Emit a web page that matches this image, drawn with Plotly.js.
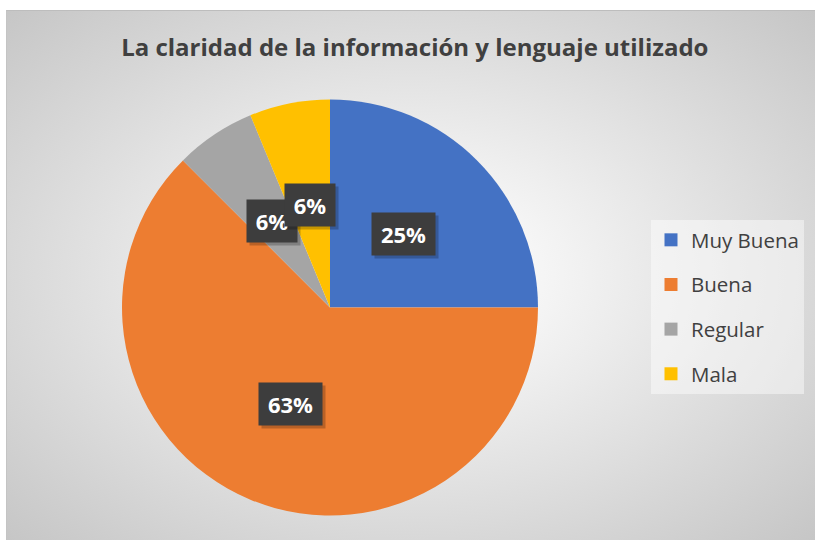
<!DOCTYPE html>
<html><head><meta charset="utf-8">
<script src="https://cdn.plot.ly/plotly-3.0.1.min.js"></script>
<style>
html,body{margin:0;padding:0;background:#fff;width:815px;height:540px;overflow:hidden}
#bg{position:absolute;left:6px;top:10px;width:809px;height:530px;border-top:1px solid #bdbdbd;border-left:1px solid #c4c4c4;box-sizing:border-box;
background:radial-gradient(ellipse farthest-corner at 50% 50%, #ffffff 0%, #fafafa 15%, #c6c6c6 100%);}
#chart{position:absolute;left:0;top:0;width:815px;height:540px}
</style></head><body>
<div id="bg"></div><div id="chart"></div>
<script>
const categories = ['Muy Buena', 'Buena', 'Regular', 'Mala'];
const counts = [4, 10, 1, 1];
const colors = ['#4472C4', '#ED7D31', '#A5A5A5', '#FFC000'];
const titleText = 'La claridad de la información y lenguaje utilizado';

const W = 815, H = 540, CX = 330, CY = 307.5, R = 208;
const domain = {x: [(CX - R) / W, (CX + R) / W], y: [(H - CY - R) / H, (H - CY + R) / H]};
const total = counts.reduce((a, b) => a + b, 0);

const annotations = [];
let cum = 0;
counts.forEach((v, i) => {
  const frac = v / total;
  const mid = (cum + frac / 2) * 2 * Math.PI;
  cum += frac;
  const px = CX + 0.5 * R * Math.sin(mid);
  const py = CY - 0.5 * R * Math.cos(mid);
  const txt = Math.round(frac * 100) + '%';
  const boxW = 13 * txt.length + 6;
  const font = {family: 'Open Sans', size: 22, color: '#ffffff', weight: 'bold'};
  const base = {xref: 'paper', yref: 'paper', x: px / W, y: 1 - py / H, showarrow: false,
    xanchor: 'center', yanchor: 'middle', borderpad: 9, width: boxW, height: 24, font: font};
  annotations.push(Object.assign({}, base, {text: '\u00a0', xshift: 3, yshift: -3, bgcolor: 'rgba(0,0,0,0.22)'}));
  annotations.push(Object.assign({}, base, {text: txt, bgcolor: '#3d3d3d'}));
});

const pie = {
  type: 'pie', labels: categories, values: counts, sort: false, direction: 'clockwise', rotation: 0,
  marker: {colors: colors, line: {width: 0}}, textinfo: 'none', hoverinfo: 'label+percent',
  domain: domain, showlegend: false
};
const legendTraces = categories.map((c, i) => ({
  type: 'scatter', mode: 'markers', x: [null], y: [null], name: c, legendgroup: c,
  marker: {symbol: 'square', size: 13, color: colors[i], line: {width: 0}}, hoverinfo: 'skip'
}));

const layout = {
  width: W, height: H, margin: {l: 0, r: 0, t: 0, b: 0},
  paper_bgcolor: 'rgba(0,0,0,0)', plot_bgcolor: 'rgba(0,0,0,0)',
  title: {text: titleText, x: 0.509, xanchor: 'center', y: 1 - 48 / H, yref: 'container', yanchor: 'middle',
    font: {family: 'Open Sans', size: 24, color: '#404040', weight: 'bold'}},
  xaxis: {visible: false}, yaxis: {visible: false},
  showlegend: true,
  legend: {x: 651 / W, xanchor: 'left', y: 1 - 220 / H, yanchor: 'top', bgcolor: 'rgba(255,255,255,0.45)',
    borderwidth: 0, tracegroupgap: 15, font: {family: 'Open Sans', size: 20.5, color: '#404040'}},
  annotations: annotations
};
Plotly.newPlot('chart', [pie].concat(legendTraces), layout, {displayModeBar: false, staticPlot: true});
</script></body></html>
